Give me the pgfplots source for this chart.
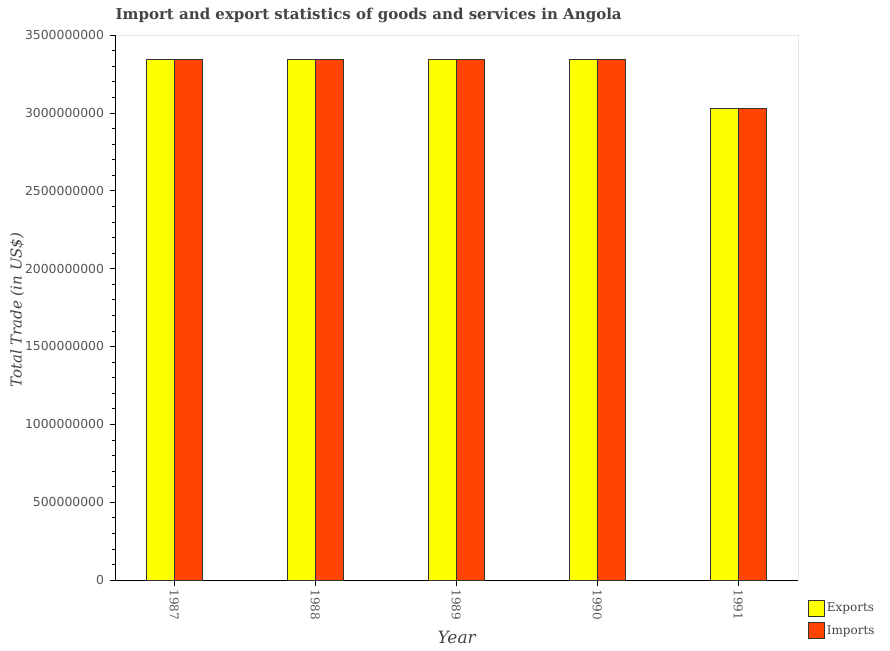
\documentclass[border=0pt]{standalone}
\usepackage{pgfplots}
\pgfplotsset{compat=1.18}
\usepackage{fontspec}
\setmainfont{DejaVu Serif}
\setsansfont{DejaVu Sans}
\definecolor{expcol}{HTML}{FFFF00}
\definecolor{impcol}{HTML}{FF4500}
\definecolor{txt}{HTML}{444444}
\definecolor{tick}{HTML}{555555}
\begin{document}
\begin{tikzpicture}[x=1pt,y=1pt]
\path[use as bounding box] (0,0) rectangle (890,650);
\begin{axis}[
  at={(115.5pt,70pt)}, anchor=south west,
  scale only axis, width=682.5pt, height=545pt,
  xmin=1986.583, xmax=1991.423,
  ymin=0, ymax=3500000000,
  scaled y ticks=false, scaled x ticks=false,
  ybar=0pt, bar width=28.2pt,
  xtick={1987,1988,1989,1990,1991},
  xticklabels={1987,1988,1989,1990,1991},
  ytick={0,500000000,1000000000,1500000000,2000000000,2500000000,3000000000,3500000000},
  yticklabels={0,500000000,1000000000,1500000000,2000000000,2500000000,3000000000,3500000000},
  minor y tick num=4,
  tick align=outside,
  major tick length=6pt, minor tick length=4pt,
  axis x line*=bottom, axis y line*=left,
  axis line style={black, thick, -},
  tick style={black, semithick},
  x tick label style={font=\fontsize{12}{14}\selectfont, text=tick, rotate=-90, anchor=west},
  y tick label style={font=\sffamily\fontsize{12.4}{14}\selectfont, text=tick, xshift=-2pt},
  xlabel={\itshape Year},
  ylabel={\itshape Total Trade (in US\$)},
  xlabel style={font=\fontsize{17}{20}\selectfont, text=txt, at={(0.5,-0.1156)}, anchor=base},
  ylabel style={font=\fontsize{15}{18}\selectfont, text=txt, at={(-0.1443,0.495)}, anchor=center},
  title={\bfseries Import and export statistics of goods and services in Angola},
  title style={font=\fontsize{15}{18}\selectfont, text=txt, at={(0,1.018)}, anchor=base west, inner xsep=0pt},
  legend style={draw=none, fill=none, at={(1.0103,-0.032)}, anchor=north west,
    font=\fontsize{12}{14}\selectfont, text=txt, row sep=6pt,
    /tikz/every even column/.append style={column sep=6pt}},
  legend image code/.code={\draw[#1] (0pt,-8pt) rectangle (16pt,8pt);},
  legend cell align=left,
  clip=false,
]
\addplot[fill=expcol, draw=black!80, line width=0.6pt] coordinates {(1987,3343000000) (1988,3343000000) (1989,3343000000) (1990,3343000000) (1991,3030000000)};
\addplot[fill=impcol, draw=black!80, line width=0.6pt] coordinates {(1987,3343000000) (1988,3343000000) (1989,3343000000) (1990,3343000000) (1991,3030000000)};
\legend{Exports,Imports}
\draw[black!10, line width=0.8pt] (rel axis cs:0,1) -- (rel axis cs:1,1) -- (rel axis cs:1,0);
\end{axis}
\end{tikzpicture}
\end{document}
